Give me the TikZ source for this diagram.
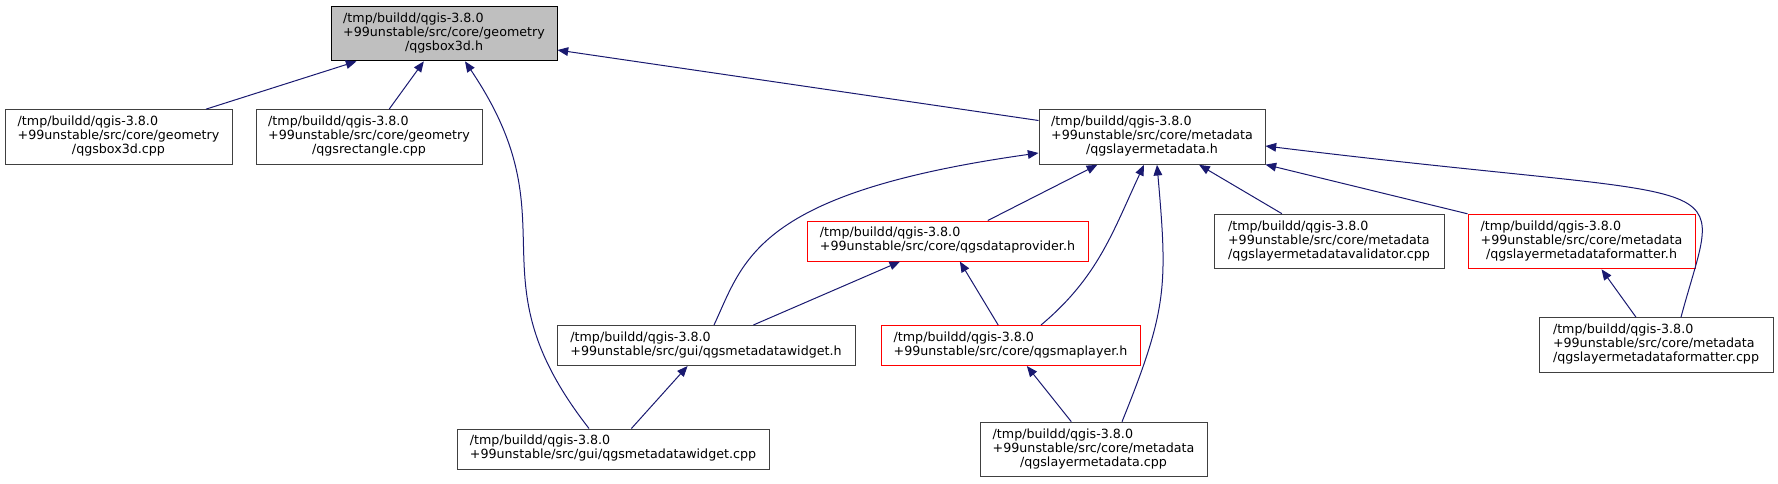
\documentclass[tikz,border=0pt]{standalone}
\usepackage{fontspec}
\setmainfont{DejaVu Sans}
\usetikzlibrary{arrows.meta}

\definecolor{edgeblue}{HTML}{191970}
\definecolor{rootgray}{HTML}{BFBFBF}
\definecolor{boxgray}{HTML}{404040}

\newcommand{\fthree}[3]{\begin{tabular}{@{}l@{}}#1\\#2\\\multicolumn{1}{@{}c@{}}{#3}\end{tabular}}
\newcommand{\ftwo}[2]{\begin{tabular}{@{}l@{}}#1\\#2\end{tabular}}

\tikzset{
  file/.style={draw=boxgray, fill=white, line width=0.75pt, inner sep=0pt, font=\fontsize{9.5}{10.6}\selectfont},
  three/.style={file, minimum height=41pt},
  two/.style={file, minimum height=30pt},
  redfile/.style={draw=red},
  rootfile/.style={fill=rootgray, draw=black},
  dep/.style={draw=edgeblue, line width=0.75pt, -{Triangle[length=8pt,width=6.5pt]}}
}

\begin{document}
\begin{tikzpicture}[x=0.75pt, y=0.75pt]
\useasboundingbox (0,0) rectangle (1778,483);
\node[three, rootfile, minimum width=169.5pt] (box3dh) at (444,449.5) {\fthree{/tmp/buildd/qgis-3.8.0}{+99unstable/src/core/geometry}{/qgsbox3d.h}};
\node[three, minimum width=170.25pt] (box3dcpp) at (118.5,346) {\fthree{/tmp/buildd/qgis-3.8.0}{+99unstable/src/core/geometry}{/qgsbox3d.cpp}};
\node[three, minimum width=169.5pt] (rectcpp) at (369,346) {\fthree{/tmp/buildd/qgis-3.8.0}{+99unstable/src/core/geometry}{/qgsrectangle.cpp}};
\node[three, minimum width=169.5pt] (layerh) at (1152,346) {\fthree{/tmp/buildd/qgis-3.8.0}{+99unstable/src/core/metadata}{/qgslayermetadata.h}};
\node[two, redfile, minimum width=210.75pt] (providerh) at (947.5,242) {\ftwo{/tmp/buildd/qgis-3.8.0}{+99unstable/src/core/qgsdataprovider.h}};
\node[three, minimum width=172.5pt] (validcpp) at (1329,241.5) {\fthree{/tmp/buildd/qgis-3.8.0}{+99unstable/src/core/metadata}{/qgslayermetadatavalidator.cpp}};
\node[three, redfile, minimum width=170.25pt] (formath) at (1581.5,241.5) {\fthree{/tmp/buildd/qgis-3.8.0}{+99unstable/src/core/metadata}{/qgslayermetadataformatter.h}};
\node[two, minimum width=223.5pt] (widgeth) at (706,137.5) {\ftwo{/tmp/buildd/qgis-3.8.0}{+99unstable/src/gui/qgsmetadatawidget.h}};
\node[two, redfile, minimum width=194.25pt] (maplayerh) at (1010.5,137.5) {\ftwo{/tmp/buildd/qgis-3.8.0}{+99unstable/src/core/qgsmaplayer.h}};
\node[three, minimum width=175.5pt] (formatcpp) at (1656,138) {\fthree{/tmp/buildd/qgis-3.8.0}{+99unstable/src/core/metadata}{/qgslayermetadataformatter.cpp}};
\node[two, minimum width=234pt] (widgetcpp) at (613,34) {\ftwo{/tmp/buildd/qgis-3.8.0}{+99unstable/src/gui/qgsmetadatawidget.cpp}};
\node[three, minimum width=170.25pt] (layercpp) at (1093.5,33.5) {\fthree{/tmp/buildd/qgis-3.8.0}{+99unstable/src/core/metadata}{/qgslayermetadata.cpp}};

\draw[dep] (box3dcpp) -- (box3dh);
\draw[dep] (rectcpp) -- (box3dh);
\draw[dep] (layerh) -- (box3dh);
\draw[dep] ([xshift=-18pt]widgetcpp.north) to[out=128,in=-56,looseness=1.3] ([xshift=15.75pt]box3dh.south);

\draw[dep] (providerh) -- (layerh);
\draw[dep] (validcpp) -- (layerh);
\draw[dep] (formath) -- (layerh);
\draw[dep] ([xshift=6pt]widgeth.north) to[out=65,in=188,out looseness=0.5,in looseness=2] ([yshift=-12pt]layerh.west);
\draw[dep] ([xshift=22.9pt]maplayerh.north) to[out=40,in=-115] ([xshift=-6pt]layerh.south);
\draw[dep] ([xshift=21.4pt]layercpp.north) to[out=68,in=-85,looseness=1.2] ([xshift=3.75pt]layerh.south);
\draw[dep] ([xshift=18.75pt]formatcpp.north) to[out=75,in=-7,out looseness=0.9,in looseness=2.8] ([yshift=-6.75pt]layerh.east);

\draw[dep] (widgeth) -- (providerh);
\draw[dep] (maplayerh) -- (providerh);
\draw[dep] (formatcpp) -- (formath);
\draw[dep] (widgetcpp) -- (widgeth);
\draw[dep] (layercpp) -- (maplayerh);
\end{tikzpicture}
\end{document}
